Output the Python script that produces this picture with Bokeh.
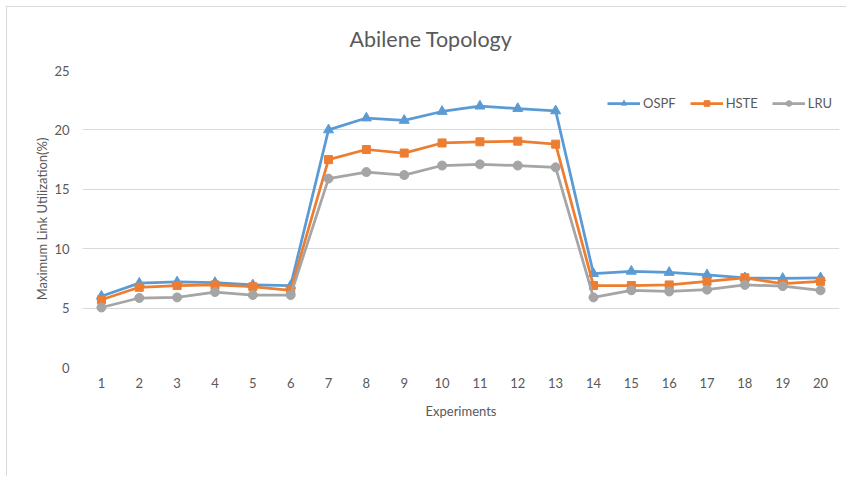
from bokeh.plotting import figure
from bokeh.models import FixedTicker, Legend, LegendItem, Title
from bokeh.embed import file_html
from bokeh.resources import INLINE

experiments = list(range(1, 21))
ospf = [6.0, 7.1, 7.2, 7.15, 6.95, 6.9, 20.0, 21.0, 20.8, 21.55, 22.0, 21.8, 21.6,
        7.9, 8.1, 8.0, 7.8, 7.55, 7.5, 7.55]
hste = [5.7, 6.75, 6.9, 6.95, 6.8, 6.5, 17.5, 18.35, 18.05, 18.9, 19.0, 19.05, 18.8,
        6.9, 6.9, 6.95, 7.25, 7.55, 7.05, 7.25]
lru = [5.05, 5.85, 5.9, 6.35, 6.1, 6.1, 15.9, 16.45, 16.2, 17.0, 17.1, 17.0, 16.85,
       5.9, 6.5, 6.4, 6.55, 6.95, 6.85, 6.5]
y_ticks = [0, 5, 10, 15, 20, 25]
title_text = "Abilene Topology"

TEXT = "#595959"
FONT = "Lato"

# outer chart border starts at (6, 6); canvas starts just inside it
OX, OY = 7, 7
p = figure(width=840, height=470, x_range=(0.5, 20.5), y_range=(0, 25),
           output_backend="svg", toolbar_location=None,
           min_border_left=82 - OX, min_border_right=8,
           min_border_top=70 - OY, min_border_bottom=110)
p.styles = {"margin-left": "6px", "margin-top": "6px",
            "border-left": "1px solid #D9D9D9", "border-top": "1px solid #D9D9D9"}
p.outline_line_color = None

p.title = Title(text=title_text, align="left", offset=267, vertical_align="top",
                text_font_size="21.5px", text_font=FONT, text_color=TEXT,
                text_font_style="normal", standoff=34)

series = [("OSPF", ospf, "#5B9BD5", "triangle", 10),
          ("HSTE", hste, "#ED7D31", "square", 8),
          ("LRU", lru, "#A5A5A5", "circle", 9)]
items = []
for name, vals, col, mk, sz in series:
    l = p.line(experiments, vals, line_color=col, line_width=2.75)
    s = p.scatter(experiments, vals, marker=mk, size=sz, fill_color=col, line_color=col)
    items.append(LegendItem(label=name, renderers=[l, s]))

legend = Legend(items=items, orientation="horizontal", location=(525, 256),
                glyph_width=33, glyph_height=14, label_standoff=3, spacing=14,
                padding=0, margin=0, border_line_alpha=0, background_fill_alpha=0,
                label_text_font_size="13px", label_text_color=TEXT, label_text_font=FONT)
p.add_layout(legend)

p.xaxis.ticker = FixedTicker(ticks=experiments)
p.yaxis.ticker = FixedTicker(ticks=y_ticks)
for ax in (p.xaxis, p.yaxis):
    ax.axis_line_color = None
    ax.major_tick_line_color = None
    ax.minor_tick_line_color = None
    ax.major_label_text_font = FONT
    ax.major_label_text_font_size = "13px"
    ax.major_label_text_color = TEXT
    ax.axis_label_text_font = FONT
    ax.axis_label_text_font_size = "13px"
    ax.axis_label_text_color = TEXT
    ax.axis_label_text_font_style = "normal"

p.xaxis.axis_label = "Experiments"
p.xaxis.major_label_standoff = 4
p.xaxis.axis_label_standoff = 12
p.yaxis.axis_label = "Maximum Link Utilization(%)"
p.yaxis.major_label_standoff = 7
p.yaxis.axis_label_standoff = 1

p.xgrid.visible = False
p.ygrid.grid_line_color = "#D9D9D9"
p.ygrid.grid_line_width = 1

open("out.html", "w").write(file_html(p, INLINE))
